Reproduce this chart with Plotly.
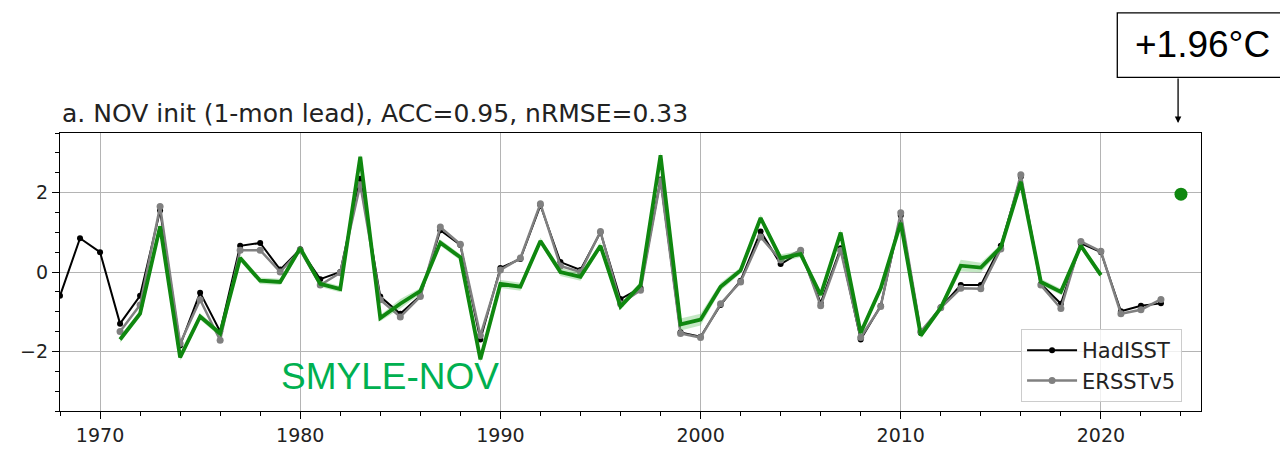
import plotly.graph_objects as go

years_had = list(range(1968, 2024))
hadisst = [-0.60, 0.85, 0.50, -1.30, -0.60, 1.55, -1.85, -0.52, -1.50, 0.66,
           0.73, 0.06, 0.57, -0.18, 0.00, 2.35, -0.62, -1.05, -0.60, 1.05,
           0.68, -1.70, 0.10, 0.33, 1.68, 0.25, 0.05, 1.00, -0.68, -0.40,
           2.33, -1.52, -1.63, -0.83, -0.22, 1.02, 0.20, 0.50, -0.78, 0.60,
           -1.70, -0.85, 1.42, -1.53, -0.89, -0.33, -0.33, 0.66, 2.40, -0.30,
           -0.80, 0.72, 0.50, -0.99, -0.85, -0.79]

years_ers = list(range(1971, 2024))
ersst = [-1.50, -0.83, 1.65, -1.80, -0.70, -1.72, 0.55, 0.55, 0.00, 0.55,
         -0.33, -0.02, 2.20, -0.70, -1.13, -0.62, 1.13, 0.70, -1.60, 0.05,
         0.35, 1.72, 0.15, 0.00, 1.02, -0.80, -0.46, 2.30, -1.55, -1.65,
         -0.80, -0.25, 0.88, 0.30, 0.55, -0.85, 0.54, -1.65, -0.87, 1.49,
         -1.50, -0.90, -0.41, -0.42, 0.58, 2.45, -0.33, -0.92, 0.77, 0.52,
         -1.05, -0.95, -0.69]

years_smyle = list(range(1971, 2021))
smyle = [-1.70, -1.05, 1.15, -2.15, -1.12, -1.55, 0.35, -0.22, -0.25, 0.60,
         -0.30, -0.43, 2.90, -1.16, -0.80, -0.48, 0.74, 0.37, -2.20, -0.30,
         -0.37, 0.78, 0.00, -0.12, 0.66, -0.87, -0.33, 2.94, -1.32, -1.20,
         -0.37, 0.04, 1.36, 0.35, 0.45, -0.58, 0.99, -1.53, -0.41, 1.24,
         -1.60, -0.90, 0.16, 0.11, 0.62, 2.27, -0.25, -0.50, 0.66, -0.08]
smyle_spread = [0.08, 0.08, 0.10, 0.08, 0.08, 0.08, 0.08, 0.08, 0.08, 0.08,
                0.08, 0.08, 0.08, 0.08, 0.12, 0.08, 0.08, 0.08, 0.08, 0.10,
                0.10, 0.08, 0.10, 0.10, 0.08, 0.08, 0.08, 0.08, 0.15, 0.15,
                0.10, 0.08, 0.08, 0.10, 0.08, 0.08, 0.08, 0.08, 0.08, 0.08,
                0.08, 0.08, 0.15, 0.12, 0.08, 0.08, 0.08, 0.08, 0.08, 0.08]

forecast_year = [2024]
forecast_value = [1.96]
forecast_err = [0.10]

GREEN = "#0f870f"

fig = go.Figure()

fig.add_trace(go.Scatter(x=years_had, y=hadisst, mode="lines+markers", name="HadISST",
                         line=dict(color="black", width=2), marker=dict(size=6, color="black")))
fig.add_trace(go.Scatter(x=years_ers, y=ersst, mode="lines+markers", name="ERSSTv5",
                         line=dict(color="#808080", width=2.5), marker=dict(size=7, color="#808080")))

upper = [v + s for v, s in zip(smyle, smyle_spread)]
lower = [v - s for v, s in zip(smyle, smyle_spread)]
fig.add_trace(go.Scatter(x=years_smyle + years_smyle[::-1], y=upper + lower[::-1], fill="toself",
                         fillcolor="rgba(60,180,60,0.3)", line=dict(width=0), hoverinfo="skip",
                         showlegend=False))
fig.add_trace(go.Scatter(x=years_smyle, y=smyle, mode="lines", showlegend=False,
                         line=dict(color=GREEN, width=3.8)))
fig.add_trace(go.Scatter(x=forecast_year, y=forecast_value, mode="markers", showlegend=False,
                         marker=dict(size=13, color=GREEN),
                         error_y=dict(type="data", array=forecast_err, color=GREEN, thickness=2, width=0)))

# plot area on screen: x 56..1201, y 133..413 (page has 8px body offset)
def px_x(p):
    return (p - 56) / 1145

def px_y(p):
    return (413 - p) / 280

fig.add_annotation(text="a. NOV init (1-mon lead), ACC=0.95, nRMSE=0.33", xref="paper", yref="paper",
                   x=0, y=px_y(113), xanchor="left", yanchor="middle", showarrow=False,
                   font=dict(family="DejaVu Sans", size=25, color="#222"))
fig.add_annotation(text="SMYLE-NOV", xref="paper", yref="paper", x=px_x(276), y=px_y(378),
                   xanchor="left", yanchor="middle", showarrow=False,
                   font=dict(family="Liberation Sans", size=37, color="#00b050"))
fig.add_shape(type="rect", xref="paper", yref="paper", x0=px_x(1117), x1=px_x(1300),
              y0=px_y(77), y1=px_y(12), line=dict(color="black", width=1.3), fillcolor="white")
fig.add_annotation(text="+1.96°C", xref="paper", yref="paper", x=px_x(1203), y=px_y(44),
                   xanchor="center", yanchor="middle", showarrow=False,
                   font=dict(family="Liberation Sans", size=37, color="black"))
fig.add_annotation(text="", xref="paper", yref="paper", x=px_x(1178), y=px_y(123),
                   ax=0, ay=-46, showarrow=True, arrowhead=2, arrowsize=1, arrowwidth=1.3,
                   arrowcolor="black")

axis_common = dict(showline=True, mirror=True, linecolor="black", linewidth=1.3,
                   ticks="outside", ticklen=7, tickwidth=1.2, tickcolor="black",
                   showgrid=True, gridcolor="#b4b4b4", gridwidth=1, zeroline=False,
                   tickfont=dict(family="DejaVu Sans", size=19, color="#222"))

fig.update_xaxes(range=[1968, 2025], tick0=1970, dtick=10,
                 minor=dict(dtick=2, tick0=1970, ticklen=4, tickcolor="black", ticks="outside", showgrid=False),
                 **axis_common)
fig.update_yaxes(range=[-3.5, 3.5], tickvals=[-2, 0, 2],
                 minor=dict(dtick=0.5, tick0=0, ticklen=4, tickcolor="black", ticks="outside", showgrid=False),
                 **axis_common)

fig.update_layout(width=1288, height=450, margin=dict(l=46, r=95, t=125, b=45),
                  plot_bgcolor="white", paper_bgcolor="white",
                  legend=dict(x=px_x(1182), y=px_y(404), xanchor="right", yanchor="bottom",
                              bgcolor="rgba(255,255,255,0.8)", bordercolor="#cccccc", borderwidth=1,
                              itemwidth=50, tracegroupgap=0,
                              font=dict(family="DejaVu Sans", size=21, color="#222")))

fig.write_html("out.html")
